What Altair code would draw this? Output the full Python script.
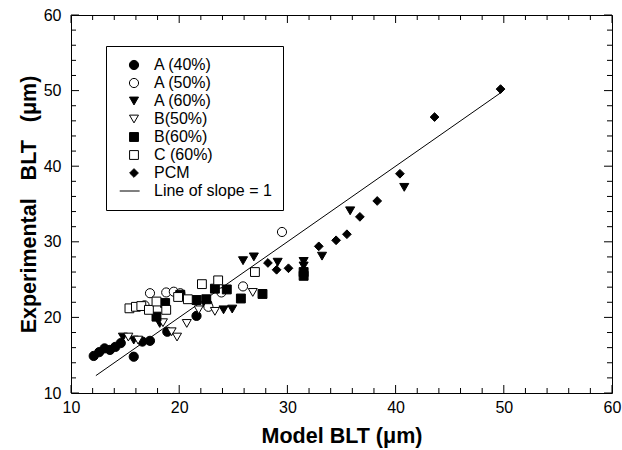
import altair as alt
import pandas as pd

# Measured vs. model bond-line thickness (um)
a40_x = [12.1, 12.6, 13.1, 13.6, 14.1, 14.6, 15.8, 16.6, 17.3, 18.9, 21.6, 22.6]
a40_y = [14.9, 15.4, 15.9, 15.7, 16.1, 16.6, 14.8, 16.8, 16.9, 18.1, 20.2, 21.8]

a50_x = [16.8, 17.3, 18.8, 19.5, 20.1, 22.7, 23.9, 25.9, 29.5]
a50_y = [21.6, 23.2, 23.3, 23.4, 23.2, 21.4, 23.3, 24.1, 31.3]

a60_x = [14.8, 15.8, 18.2, 24.1, 24.9, 25.9, 26.9, 29.1, 31.5, 31.5, 33.2, 35.8, 40.8]
a60_y = [17.4, 17.0, 19.2, 21.0, 21.1, 27.5, 28.0, 27.3, 27.4, 26.8, 28.1, 34.1, 37.2]

b50_x = [15.3, 16.2, 18.5, 19.3, 19.8, 20.7, 21.8, 23.3, 26.8]
b50_y = [17.4, 17.0, 19.3, 18.1, 17.4, 19.2, 21.0, 20.8, 23.3]

b60_x = [17.9, 18.7, 20.1, 21.6, 22.5, 23.3, 24.4, 25.7, 27.7, 31.5, 31.5]
b60_y = [20.1, 21.9, 23.0, 22.3, 22.4, 23.8, 23.7, 22.5, 23.1, 26.0, 25.5]

c60_x = [15.4, 16.0, 16.5, 17.2, 17.9, 18.8, 19.9, 20.8, 22.1, 23.6, 27.0]
c60_y = [21.2, 21.4, 21.5, 21.0, 22.1, 21.0, 22.7, 22.4, 24.4, 24.9, 26.0]

pcm_x = [28.2, 29.0, 30.1, 32.9, 34.5, 35.5, 36.7, 38.3, 40.4, 43.6, 49.7]
pcm_y = [27.2, 26.3, 26.5, 29.4, 30.2, 31.0, 33.3, 35.4, 39.0, 46.5, 50.2]

# y = x reference line
slope_x = [12.3, 49.7]

series_names = ["A (40%)", "A (50%)", "A (60%)", "B(50%)", "B(60%)", "C (60%)", "PCM"]
line_name = "Line of slope = 1"

major_ticks = [10, 20, 30, 40, 50, 60]
minor_ticks = [12, 14, 16, 18, 22, 24, 26, 28, 32, 34, 36, 38, 42, 44, 46, 48, 52, 54, 56, 58]

W, H = 541, 378
FONT = "Liberation Sans, Arial, Helvetica, sans-serif"

rows = []
for name, xs, ys in zip(
    series_names,
    [a40_x, a50_x, a60_x, b50_x, b60_x, c60_x, pcm_x],
    [a40_y, a50_y, a60_y, b50_y, b60_y, c60_y, pcm_y],
):
    for xv, yv in zip(xs, ys):
        rows.append({"x": xv, "y": yv, "series": name})
points_df = pd.DataFrame(rows)
line_df = pd.DataFrame({"x": slope_x, "y": slope_x})
major_df = pd.DataFrame({"v": major_ticks})
minor_df = pd.DataFrame({"v": minor_ticks})

x_scale = alt.Scale(domain=[10, 60], nice=False, zero=False)
y_scale = alt.Scale(domain=[10, 60], nice=False, zero=False)

legend_domain = series_names + [line_name]
shape_range = ["circle", "circle", "triangle-down", "triangle-down", "square", "square",
               "diamond", "M-3.3,0L1.3,0"]
fill_range = ["black", "white", "black", "white", "black", "white",
              "black", "black"]
stroke_range = ["black"] * len(legend_domain)
size_range = [85, 75, 85, 80, 55, 55, 220, 100]

legend = alt.Legend(
    title=None,
    orient="none",
    legendX=35,
    legendY=31,
    padding=11,
    rowPadding=2,
    labelOffset=12,
    symbolOffset=9,
    strokeColor="black",
    fillColor="white",
    labelFont=FONT,
    labelFontSize=16,
    labelColor="black",
    labelLimit=300,
    symbolStrokeWidth=1,
)

x_axis = alt.Axis(
    title="Model BLT (\u03bcm)",
    values=major_ticks,
    ticks=False,
    domain=False,
    grid=False,
    labelFlush=False,
    labelFont=FONT,
    labelFontSize=16,
    labelColor="black",
    labelPadding=6,
    titleFont=FONT,
    titleFontSize=21.5,
    titleFontWeight="bold",
    titleColor="black",
    titlePadding=10,
)
y_axis = alt.Axis(
    title="Experimental\u00a0\u00a0 BLT\u00a0\u00a0 (\u03bcm)",
    values=major_ticks,
    ticks=False,
    domain=False,
    grid=False,
    labelFlush=False,
    labelFont=FONT,
    labelFontSize=16,
    labelColor="black",
    labelPadding=10,
    titleFont=FONT,
    titleFontSize=21.5,
    titleFontWeight="bold",
    titleColor="black",
    titlePadding=3,
)

points = alt.Chart(points_df).mark_point(
    filled=True, strokeWidth=1, opacity=1
).encode(
    x=alt.X("x:Q", scale=x_scale, axis=x_axis),
    y=alt.Y("y:Q", scale=y_scale, axis=y_axis),
    shape=alt.Shape("series:N", scale=alt.Scale(domain=legend_domain, range=shape_range), legend=legend),
    fill=alt.Fill("series:N", scale=alt.Scale(domain=legend_domain, range=fill_range), legend=legend),
    stroke=alt.Stroke("series:N", scale=alt.Scale(domain=legend_domain, range=stroke_range), legend=legend),
    size=alt.Size("series:N", scale=alt.Scale(domain=legend_domain, range=size_range), legend=legend),
)

ref_line = alt.Chart(line_df).mark_line(color="black", strokeWidth=1).encode(
    x=alt.X("x:Q", scale=x_scale, axis=x_axis),
    y=alt.Y("y:Q", scale=y_scale, axis=y_axis),
)


def tick_layer(df, channel, length, side):
    base = alt.Chart(df).mark_rule(color="black", strokeWidth=1)
    if channel == "x":
        if side == "bottom":
            ends = dict(y=alt.value(H), y2=alt.value(H - length))
        else:
            ends = dict(y=alt.value(0), y2=alt.value(length))
        return base.encode(
            x=alt.X("v:Q", scale=x_scale, axis=x_axis), x2="v:Q", **ends
        )
    if side == "left":
        ends = dict(x=alt.value(0), x2=alt.value(length))
    else:
        ends = dict(x=alt.value(W), x2=alt.value(W - length))
    return base.encode(
        y=alt.Y("v:Q", scale=y_scale, axis=y_axis), y2="v:Q", **ends
    )


ticks = []
for df, length in [(minor_df, 5), (major_df, 8)]:
    ticks.append(tick_layer(df, "x", length, "bottom"))
    ticks.append(tick_layer(df, "x", length, "top"))
    ticks.append(tick_layer(df, "y", length, "left"))
    ticks.append(tick_layer(df, "y", length, "right"))

chart = alt.layer(*ticks, ref_line, points).properties(
    width=W,
    height=H,
    autosize=alt.AutoSizeParams(type="none"),
    padding={"left": 71, "top": 15, "right": 10, "bottom": 57},
    background="white",
).configure_view(
    stroke="black", strokeWidth=1
)

chart.save("out.html", embed_options={"renderer": "svg", "actions": False})
